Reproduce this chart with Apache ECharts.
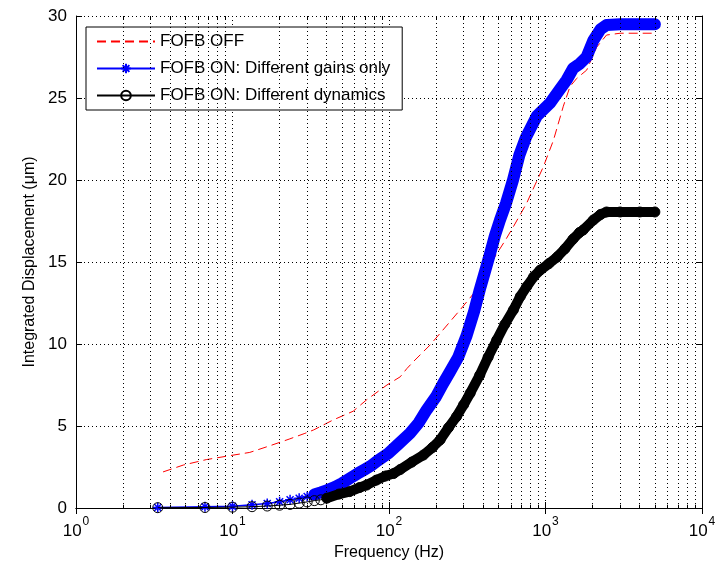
<!DOCTYPE html>
<html lang="en">
<head>
    <meta charset="UTF-8">
    <title>Integrated displacement</title>
    <script src="https://cdn.jsdelivr.net/npm/echarts@6/dist/echarts.min.js"></script>
    <style>
        *{
            margin: 0;
            padding: 0;
        }
        html ,body{
            width: 100%;
            height: 100%;
            overflow: hidden;
            background: #fff;
        }
        .container{
            width: 720px;
            height: 567px;
        }
    </style>
</head>
<body>
<div class="container"></div>
<script>
    // values: frequency (Hz) and integrated displacement (um)
    let offFreq = [3.6, 4.85, 6.8, 9.6, 12.9, 17.4, 23, 29, 33, 44, 59, 72, 97, 118, 130, 143, 183, 212, 284, 363, 420, 488, 560, 623, 700, 759, 857, 968, 1122, 1300, 1435, 1585, 1833, 2123, 2456, 3000, 4000, 5000];
    let offVal = [2.2, 2.62, 2.95, 3.19, 3.39, 3.8, 4.2, 4.55, 4.76, 5.37, 5.9, 6.6, 7.5, 8.0, 8.5, 8.92, 9.94, 10.65, 12.07, 13.3, 14.5, 15.5, 16.4, 17.15, 18.0, 18.6, 19.7, 20.8, 22.4, 24.5, 25.7, 26.2, 26.7, 28.1, 28.84, 28.95, 28.95, 28.95];

    let gainFreq = [3.33, 6.67, 10, 13.33, 16.67, 20, 23.33, 26.67, 30, 33.33, 36.67, 40, 45, 50, 56, 63, 70, 76, 85, 99, 115, 136, 155, 174, 200, 222, 245, 277, 313, 350, 380, 410, 442, 475, 512, 560, 620, 680, 750, 880, 1070, 1250, 1365, 1500, 1660, 1830, 2020, 2250, 2460, 3000, 4000, 5000];
    let gainVal = [0.03, 0.08, 0.1, 0.2, 0.28, 0.38, 0.5, 0.6, 0.7, 0.82, 0.95, 1.08, 1.28, 1.5, 1.8, 2.1, 2.35, 2.55, 2.9, 3.33, 3.9, 4.55, 5.2, 5.98, 6.8, 7.6, 8.3, 9.2, 10.5, 12.0, 13.3, 14.4, 15.5, 16.6, 17.56, 18.6, 20.0, 21.5, 22.6, 23.9, 24.7, 25.6, 26.1, 26.8, 27.1, 27.5, 28.5, 29.2, 29.45, 29.5, 29.5, 29.5];

    let dynFreq = [3.33, 6.67, 10, 13.33, 16.67, 20, 23.33, 26.67, 30, 33.33, 36.67, 40, 48, 56, 65, 72, 83, 95, 107, 118, 140, 166, 190, 212, 240, 270, 300, 330, 380, 430, 488, 550, 623, 690, 759, 840, 923, 1050, 1185, 1330, 1500, 1650, 1740, 2023, 2250, 2456, 3000, 4000, 5000];
    let dynVal = [0.02, 0.03, 0.05, 0.08, 0.12, 0.17, 0.22, 0.3, 0.37, 0.45, 0.5, 0.6, 0.85, 1.0, 1.25, 1.4, 1.7, 1.95, 2.1, 2.35, 2.8, 3.23, 3.7, 4.15, 4.9, 5.57, 6.3, 7.0, 8.1, 9.2, 10.24, 11.2, 12.07, 12.9, 13.5, 14.1, 14.5, 14.9, 15.3, 15.8, 16.4, 16.8, 16.95, 17.56, 17.9, 18.05, 18.05, 18.05, 18.05];

    let names = ['FOFB OFF', 'FOFB ON: Different gains only', 'FOFB ON: Different dynamics'];
    let yTicks = [0, 5, 10, 15, 20, 25, 30];
    let xMinor = [2, 3, 4, 5, 6, 7, 8, 9, 20, 30, 40, 50, 60, 70, 80, 90, 200, 300, 400, 500, 600, 700, 800, 900, 2000, 3000, 4000, 5000, 6000, 7000, 8000, 9000];

    let font = 'Liberation Sans, Arial, sans-serif';
    let pair = (fs, vs) => fs.map((f, i) => [f, vs[i]]);
    let offData = pair(offFreq, offVal);
    let gainData = pair(gainFreq, gainVal);
    let dynData = pair(dynFreq, dynVal);

    let star = 'path://M0,5L10,5M5,0L5,10M1.5,1.5L8.5,8.5M8.5,1.5L1.5,8.5';
    let dots = {type: [1, 3], color: '#000', width: 1};

    // short minor tick marks on bottom and top edges
    let minorTicks = [];
    xMinor.forEach(f => {
        minorTicks.push([{coord: [f, 0]}, {coord: [f, 0.2]}]);
        minorTicks.push([{coord: [f, 30]}, {coord: [f, 29.8]}]);
    });

    let container = document.querySelector('.container');
    let mycharts = echarts.init(container);

    let options = {
        animation: false,
        backgroundColor: '#fff',
        textStyle: {fontFamily: font},
        grid: {left: 76, right: 18, top: 16, bottom: 59, containLabel: false},
        legend: {
            data: [
                {name: names[0], itemStyle: {color: 'rgba(0,0,0,0)', borderWidth: 0, opacity: 0}},
                {name: names[1]},
                {name: names[2]}
            ],
            orient: 'vertical',
            left: 86,
            top: 27,
            backgroundColor: '#fff',
            borderColor: '#000',
            borderWidth: 1,
            borderRadius: 0,
            padding: [5, 12, 5, 10],
            itemWidth: 58,
            itemHeight: 12,
            itemGap: 8,
            textStyle: {fontSize: 17, color: '#000', fontFamily: font, lineHeight: 19}
        },
        xAxis: [{
            type: 'log',
            logBase: 10,
            min: 1,
            max: 10000,
            name: 'Frequency (Hz)',
            nameLocation: 'middle',
            nameGap: 36,
            nameTextStyle: {fontSize: 16, color: '#000'},
            axisLine: {lineStyle: {color: '#000'}},
            axisTick: {inside: true, length: 6, lineStyle: {color: '#000'}},
            axisLabel: {
                margin: 8,
                formatter: v => '{b|10}{s|' + Math.round(Math.log10(v)) + '}',
                rich: {
                    b: {fontSize: 17, color: '#000', fontFamily: font, lineHeight: 24, verticalAlign: 'bottom'},
                    s: {fontSize: 12, color: '#000', fontFamily: font, lineHeight: 24, verticalAlign: 'top', padding: [0, 0, 0, 1]}
                }
            },
            splitLine: {show: true, lineStyle: dots}
        }, {
            type: 'log',
            logBase: 10,
            min: 1,
            max: 10000,
            position: 'top',
            axisLine: {lineStyle: {color: '#000'}},
            axisTick: {inside: true, length: 6, lineStyle: {color: '#000'}},
            axisLabel: {show: false},
            splitLine: {show: false}
        }],
        yAxis: [{
            type: 'value',
            min: 0,
            max: 30,
            interval: 5,
            name: 'Integrated Displacement (\u03bcm)',
            nameLocation: 'middle',
            nameGap: 38,
            nameTextStyle: {fontSize: 16, color: '#000'},
            axisLine: {show: true, lineStyle: {color: '#000'}},
            axisTick: {show: true, inside: true, length: 6, lineStyle: {color: '#000'}},
            axisLabel: {fontSize: 17, color: '#000', margin: 9, formatter: v => yTicks.includes(v) ? String(v) : ''},
            splitLine: {show: true, lineStyle: dots}
        }, {
            type: 'value',
            min: 0,
            max: 30,
            interval: 5,
            position: 'right',
            axisLine: {show: true, lineStyle: {color: '#000'}},
            axisTick: {show: true, inside: true, length: 6, lineStyle: {color: '#000'}},
            axisLabel: {show: false},
            splitLine: {show: false}
        }],
        series: [
            {
                name: 'minorGrid',
                type: 'line',
                data: [],
                silent: true,
                markLine: {
                    silent: true,
                    symbol: 'none',
                    label: {show: false},
                    lineStyle: dots,
                    data: xMinor.map(f => ({xAxis: f}))
                }
            },
            {
                name: 'minorTicks',
                type: 'line',
                data: [],
                silent: true,
                markLine: {
                    silent: true,
                    symbol: 'none',
                    label: {show: false},
                    lineStyle: {type: 'solid', color: '#000', width: 1},
                    data: minorTicks
                }
            },
            {
                name: names[0],
                type: 'line',
                data: offData,
                showSymbol: false,
                symbol: 'none',
                itemStyle: {color: '#ff0000'},
                lineStyle: {color: '#ff0000', width: 1, type: [9, 5]},
                z: 3
            },
            {
                name: 'gainBand',
                type: 'line',
                data: gainData.filter(d => d[0] >= 33),
                symbol: 'none',
                lineStyle: {color: '#0000ff', width: 12, cap: 'round', join: 'round'},
                z: 4
            },
            {
                name: names[1],
                type: 'line',
                data: gainData,
                symbol: star,
                symbolSize: 10,
                itemStyle: {color: '#0000ff', borderColor: '#0000ff', borderWidth: 1.5},
                lineStyle: {color: '#0000ff', width: 1.5},
                z: 4
            },
            {
                name: 'dynBand',
                type: 'line',
                data: dynData.filter(d => d[0] >= 40),
                symbol: 'none',
                lineStyle: {color: '#000', width: 10, cap: 'round', join: 'round'},
                z: 5
            },
            {
                name: names[2],
                type: 'line',
                data: dynData,
                symbol: 'circle',
                symbolSize: 10,
                itemStyle: {color: 'rgba(0,0,0,0)', borderColor: '#000', borderWidth: 1},
                lineStyle: {color: '#000', width: 1},
                z: 5
            }
        ]
    };

    mycharts.setOption(options);
</script>
</body>
</html>
